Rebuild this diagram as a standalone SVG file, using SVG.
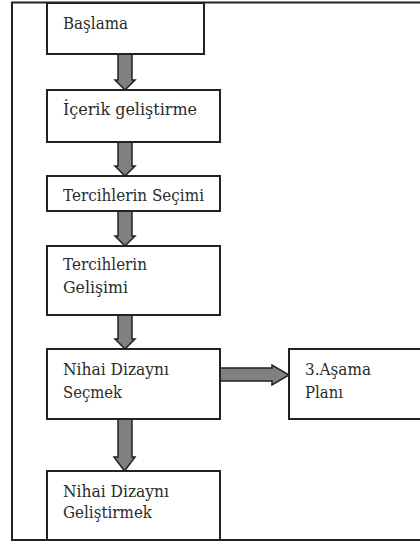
<svg xmlns="http://www.w3.org/2000/svg" width="420" height="544" viewBox="0 0 420 544">
<style>
.box{fill:#fff;stroke:#222;stroke-width:2}
.t{font-family:"DejaVu Serif","Liberation Serif",serif;font-size:17px;fill:#2b2b2b}
.arr{fill:#808080;stroke:#222;stroke-width:1.5;stroke-linejoin:miter}
</style>
<rect x="0" y="0" width="420" height="544" fill="#fff"/>
<rect id="frame" x="12" y="2.5" width="420" height="537.5" fill="none" stroke="#222" stroke-width="2"/>
<g id="connectors">
<path class="arr" d="M118,54 H132 V80 H135 L125,90 L115,80 H118 Z"/>
<path class="arr" d="M118,142 H132 V166 H135 L125,176 L115,166 H118 Z"/>
<path class="arr" d="M118,211 H132 V236 H135 L125,246 L115,236 H118 Z"/>
<path class="arr" d="M118,315 H132 V339 H135 L125,349 L115,339 H118 Z"/>
<path class="arr" d="M118,419 H132 V457 H135 L124.5,471 L114,457 H118 Z"/>
<path class="arr" d="M220,368 H272 V365 L289,375 L272,385 V381 H220 Z"/>
</g>
<g id="n1"><rect class="box" x="47" y="3" width="157" height="51"/><text class="t" x="63" y="29" textLength="65" lengthAdjust="spacingAndGlyphs">Başlama</text></g>
<g id="n2"><rect class="box" x="47" y="90" width="173" height="52"/><text class="t" x="63" y="115" textLength="134" lengthAdjust="spacingAndGlyphs">İçerik geliştirme</text></g>
<g id="n3"><rect class="box" x="47" y="176" width="173" height="35"/><text class="t" x="63" y="201" textLength="141" lengthAdjust="spacingAndGlyphs">Tercihlerin Seçimi</text></g>
<g id="n4"><rect class="box" x="47" y="246" width="173" height="69"/><text class="t" x="63" y="270" textLength="84" lengthAdjust="spacingAndGlyphs">Tercihlerin</text><text class="t" x="63" y="293" textLength="65" lengthAdjust="spacingAndGlyphs">Gelişimi</text></g>
<g id="n5"><rect class="box" x="47" y="349" width="173" height="70"/><text class="t" x="63" y="375" textLength="106" lengthAdjust="spacingAndGlyphs">Nihai Dizaynı</text><text class="t" x="63" y="398" textLength="59" lengthAdjust="spacingAndGlyphs">Seçmek</text></g>
<g id="n6"><rect class="box" x="289" y="349" width="140" height="70"/><text class="t" x="305" y="375" textLength="66" lengthAdjust="spacingAndGlyphs">3.Aşama</text><text class="t" x="305" y="398" textLength="38" lengthAdjust="spacingAndGlyphs">Planı</text></g>
<g id="n7"><rect class="box" x="47" y="471" width="173" height="69"/><text class="t" x="63" y="497" textLength="106" lengthAdjust="spacingAndGlyphs">Nihai Dizaynı</text><text class="t" x="63" y="518" textLength="89" lengthAdjust="spacingAndGlyphs">Geliştirmek</text></g>
</svg>
